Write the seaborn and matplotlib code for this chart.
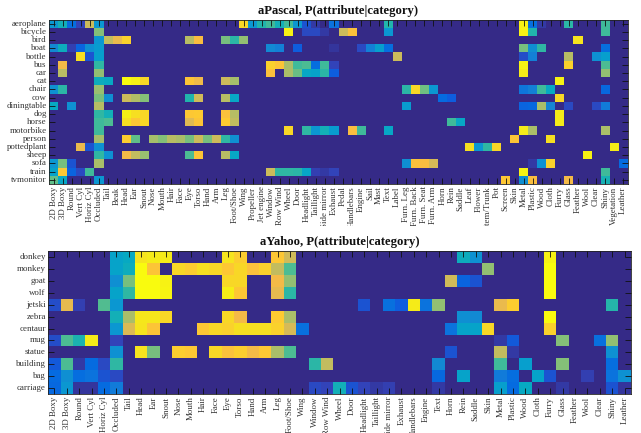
import matplotlib
matplotlib.use("Agg")
import numpy as np
import matplotlib.pyplot as plt
import seaborn as sns
from matplotlib.colors import LinearSegmentedColormap
from matplotlib.transforms import Bbox

sns.set_theme(style="white")
plt.rcParams['font.family'] = ['Liberation Serif', 'DejaVu Serif']

# parula colour knots
parula_knots = [
    (0.2081,0.1663,0.5292),(0.1959,0.2645,0.7279),(0.0591,0.3598,0.8683),(0.0165,0.4266,0.8786),
    (0.0629,0.4737,0.8554),(0.0793,0.5200,0.8312),(0.0488,0.5772,0.8228),(0.0239,0.6287,0.8038),
    (0.0267,0.6642,0.7607),(0.0843,0.6928,0.7062),(0.1801,0.7177,0.6424),(0.3022,0.7376,0.5712),
    (0.4420,0.7481,0.5033),(0.5709,0.7485,0.4494),(0.6834,0.7435,0.4044),(0.7858,0.7356,0.3633),
    (0.8824,0.7274,0.3217),(0.9739,0.7314,0.2666),(0.9955,0.7861,0.1967),(0.9697,0.8481,0.1475),
    (0.9598,0.9218,0.0948),(0.9763,0.9831,0.0538)]
parula = LinearSegmentedColormap.from_list("parula", parula_knots)

pascal_attributes = ["2D Boxy","3D Boxy","Round","Vert Cyl","Horiz Cyl","Occluded","Tail","Beak","Head","Ear","Snout","Nose","Mouth","Hair","Face","Eye","Torso","Hand","Arm","Leg","Foot/Shoe","Wing","Propeller","Jet engine","Window","Row Wind","Wheel","Door","Headlight","Taillight","Side mirror","Exhaust","Pedal","Handlebars","Engine","Sail","Mast","Text","Label","Furn. Leg","Furn. Back","Furn. Seat","Furn. Arm","Horn","Rein","Saddle","Leaf","Flower","Stem/Trunk","Pot","Screen","Skin","Metal","Plastic","Wood","Cloth","Furry","Glass","Feather","Wool","Clear","Shiny","Vegetation","Leather"]
pascal_categories = ["aeroplane","bicycle","bird","boat","bottle","bus","car","cat","chair","cow","diningtable","dog","horse","motorbike","person","pottedplant","sheep","sofa","train","tvmonitor"]

# P(attribute|category): attribute index -> value, everything else is 0
p_aeroplane = {0:.3,1:.42,2:.15,3:.05,4:.72,5:.3,21:.9,22:.3,23:.45,24:.5,25:.42,26:.5,27:.3,28:.08,29:.03,31:.17,37:.45,52:.97,53:.15,54:.03,57:.47,61:.5}
p_bicycle = {5:.6,26:.97,28:.06,29:.06,30:.03,32:.72,33:.83,37:.3,52:.97,53:.45,61:.5}
p_bird = {5:.3,6:.7,7:.78,8:.88,15:.68,16:.82,19:.58,20:.47,21:.62,58:.93}
p_boat = {0:.25,1:.4,2:.04,3:.12,4:.27,5:.32,24:.25,25:.22,27:.1,31:.02,34:.06,35:.22,36:.33,37:.15,52:.58,53:.27,54:.48,61:.15}
p_bottle = {3:.92,4:.08,5:.33,38:.72,52:.07,53:.22,57:.68,60:.28,61:.33}
p_bus = {1:.8,5:.48,24:.88,25:.84,26:.66,27:.5,28:.52,29:.15,30:.5,31:.05,52:.97,57:.88,61:.52}
p_car = {1:.68,5:.62,24:.83,26:.66,27:.56,28:.37,29:.35,30:.47,31:.1,52:.95,61:.62}
p_cat = {5:.4,6:.38,8:1,9:.97,10:.9,15:.84,16:.79,19:.72,20:.65,56:.97}
p_chair = {0:.28,1:.47,5:.63,39:.47,40:.9,41:.57,42:.3,52:.18,53:.22,54:.5,55:.38,61:.13}
p_cow = {5:.58,6:.27,8:.72,9:.67,10:.6,15:.45,16:.73,19:.68,20:.37,43:.14,44:.1,56:.9}
p_diningtable = {0:.38,2:.28,5:.68,39:.32,52:.12,53:.13,54:.66,55:.24,57:.06,60:.06,61:.2}
p_dog = {5:.48,6:.42,8:.96,9:.92,10:.9,15:.85,16:.86,19:.83,20:.68,56:.95}
p_horse = {5:.5,6:.52,8:.92,9:.85,10:.9,15:.76,16:.84,19:.86,20:.7,44:.5,45:.37,56:.95}
p_motorbike = {5:.5,26:.9,28:.48,29:.3,30:.42,31:.32,33:.82,34:.5,37:.37,52:.95,53:.66,61:.66}
p_person = {5:.65,8:.87,9:.55,11:.65,12:.6,13:.68,14:.66,15:.58,16:.72,17:.58,18:.72,19:.48,20:.27,51:.84,55:.92}
p_pottedplant = {3:.78,4:.08,5:.28,46:.92,47:.3,48:.48,49:.9,62:.95}
p_sheep = {5:.48,6:.28,8:.8,9:.7,10:.63,15:.52,16:.84,19:.68,20:.37,59:.97}
p_sofa = {0:.3,1:.58,2:.08,5:.66,39:.27,40:.83,41:.82,42:.74,53:.03,54:.28,55:.88,63:.14}
p_train = {0:.35,1:.85,2:.12,3:.06,4:.5,24:.72,25:.48,26:.48,27:.47,28:.36,29:.04,30:.03,31:.05,52:.97,61:.5}
p_tvmonitor = {0:.55,1:.37,5:.3,50:.85,52:.27,53:.82,57:.8,61:.43}
pascal_rows = [p_aeroplane,p_bicycle,p_bird,p_boat,p_bottle,p_bus,p_car,p_cat,p_chair,p_cow,p_diningtable,p_dog,p_horse,p_motorbike,p_person,p_pottedplant,p_sheep,p_sofa,p_train,p_tvmonitor]

yahoo_attributes = ["2D Boxy","3D Boxy","Round","Vert Cyl","Horiz Cyl","Occluded","Tail","Head","Ear","Snout","Nose","Mouth","Hair","Face","Eye","Torso","Hand","Arm","Leg","Foot/Shoe","Wing","Window","Row Wind","Wheel","Door","Headlight","Taillight","Side mirror","Exhaust","Handlebars","Engine","Text","Horn","Rein","Saddle","Skin","Metal","Plastic","Wood","Cloth","Furry","Glass","Feather","Wool","Clear","Shiny","Leather"]
yahoo_categories = ["donkey","monkey","goat","wolf","jetski","zebra","centaur","mug","statue","building","bag","carriage"]

y_donkey = {5:.35,6:.38,7:.93,8:.95,9:.95,14:.93,15:.87,18:.85,19:.73,33:.4,34:.28,40:.97}
y_monkey = {5:.35,6:.4,7:1,8:.84,10:.9,11:.87,12:.92,13:.9,14:.85,15:.9,16:.83,17:.88,18:.7,19:.52,35:.62,40:1}
y_goat = {5:.27,6:.58,7:1,8:1,9:.97,14:.9,15:.9,18:.8,19:.62,32:.73,33:.12,34:.08,40:1}
y_wolf = {5:.35,6:.48,7:1,8:1,9:.98,14:.96,15:.85,18:.77,19:.47,40:1}
y_jetski = {0:.07,1:.77,2:.04,4:.53,5:.3,25:.08,27:.16,28:.1,29:.95,30:.17,31:.62,36:.78,37:.87,45:.46}
y_zebra = {5:.42,6:.66,7:.94,8:.94,9:.9,14:.9,15:.8,18:.86,19:.66,33:.27,34:.25,40:1}
y_centaur = {5:.3,6:.75,7:.93,8:.84,12:.85,13:.9,14:.88,15:.92,16:.92,17:.92,18:.88,19:.74,20:.16,32:.17,33:.35,34:.35,35:.9,40:.88}
y_mug = {0:.07,1:.52,2:.44,3:.95,5:.05,36:.03,37:.09,41:.6,44:.16,45:.62}
y_statue = {5:.28,7:.93,8:.58,10:.87,11:.85,13:.9,14:.83,15:.87,16:.8,17:.85,18:.66,19:.52,32:.08,36:.7,37:.03,45:.28}
y_building = {0:.09,1:.52,2:.03,3:.14,4:.06,5:.48,21:.47,22:.7,31:.25,36:.5,38:.33,41:.6,45:.15}
y_bag = {0:.14,1:.27,2:.15,3:.17,4:.08,5:.06,31:.13,33:.35,36:.2,37:.15,39:.35,40:.08,43:.04,45:.17,46:.28}
y_carriage = {0:.13,1:.3,2:.02,3:.02,4:.14,5:.2,21:.06,22:.05,23:.42,24:.08,25:.05,26:.03,27:.04,31:.03,36:.33,37:.14,38:.38,41:.03,45:.08,46:.02}
yahoo_rows = [y_donkey,y_monkey,y_goat,y_wolf,y_jetski,y_zebra,y_centaur,y_mug,y_statue,y_building,y_bag,y_carriage]

W, H = 641, 433
fig = plt.figure(figsize=(W/100, H/100), dpi=100)


def panel(rows, cats, attrs, title, box, clip_y, title_y):
    l, t, r, b = box
    ax = fig.add_axes([l/W, 1-b/H, (r-l)/W, (b-t)/H])
    mat = np.zeros((len(rows), len(attrs)))
    for i, row in enumerate(rows):
        for j, v in row.items():
            mat[i, j] = v
    sns.heatmap(mat, ax=ax, cmap=parula, vmin=0, vmax=1, cbar=False,
                xticklabels=attrs, yticklabels=cats, square=False)
    ax.set_axisbelow(False)
    for s in ax.spines.values():
        s.set_visible(True)
        s.set_color("#222222")
        s.set_linewidth(0.6)
    ax.tick_params(axis="both", which="major", direction="in", length=4.6, width=0.6,
                   color="#111111", top=True, right=True, bottom=True, left=True,
                   labelsize=6.4, labelcolor="#333333", pad=1.8)
    clip = Bbox([[0, H - clip_y], [W, H]])
    for lab in ax.get_xticklabels():
        lab.set_rotation(90)
        lab.set_ha("center")
        lab.set_va("top")
        lab.set_clip_box(clip)
        lab.set_clip_on(True)
    for lab in ax.get_yticklabels():
        lab.set_rotation(0)
        lab.set_va("center")
    fig.text((l+r)/2/W, 1-title_y/H, title, ha="center", va="center",
             fontsize=9.1, fontweight="bold", color="#111111")
    return ax


panel(pascal_rows, pascal_categories, pascal_attributes, "aPascal, P(attribute|category)",
      (49.3, 19.5, 627.7, 184), 225.5, 11)
panel(yahoo_rows, yahoo_categories, yahoo_attributes, "aYahoo, P(attribute|category)",
      (48.3, 251.3, 630.7, 394), 433, 242)
fig.savefig("out.png", dpi=100)
